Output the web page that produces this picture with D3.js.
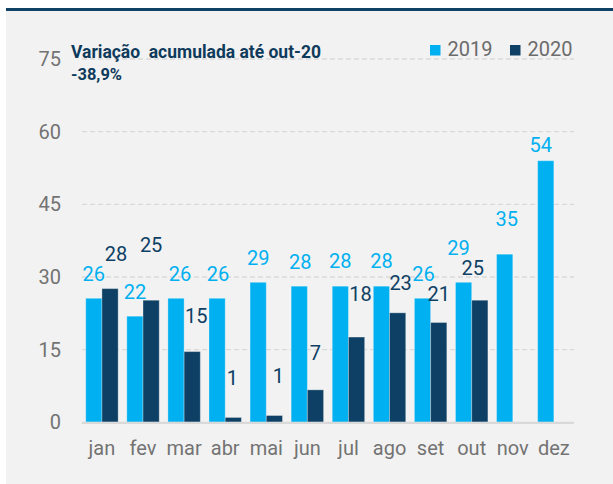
<!DOCTYPE html>
<html>
<head>
<meta charset="utf-8">
<script src="https://cdn.jsdelivr.net/npm/d3@7"></script>
<style>
  html, body { margin: 0; padding: 0; background: #ffffff; }
  svg { display: block; }
  text { font-family: Roboto, "Open Sans", sans-serif; }
</style>
</head>
<body>
<svg id="chart" width="613" height="484"></svg>
<script>
// ---- data ----
const months = ["jan", "fev", "mar", "abr", "mai", "jun", "jul", "ago", "set", "out", "nov", "dez"];
const seriesNames = ["2019", "2020"];
const values2019 = [25.6, 21.9, 25.6, 25.6, 28.9, 28.1, 28.1, 28.1, 25.6, 28.9, 34.7, 54.0];
const values2020 = [27.6, 25.2, 14.6, 1.0, 1.4, 6.7, 17.6, 22.6, 20.6, 25.2, null, null];
const labels2019 = ["26", "22", "26", "26", "29", "28", "28", "28", "26", "29", "35", "54"];
const labels2020 = ["28", "25", "15", "1", "1", "7", "18", "23", "21", "25", null, null];
const yTicks = [0, 15, 30, 45, 60, 75];
const annotationLines = ["Variação  acumulada até out-20", "-38,9%"];

// ---- layout / style (not data) ----
const colors = { "2019": "#00b0f0", "2020": "#0d4064" };
const labelNudge2019 = [[0,0],[0,0],[4,0],[1,0],[0,0],[1,0],[0,-1],[0,-1],[1,0],[-5,-10],[2,-11],[-5,8]];
const labelNudge2020 = [[6,-11],[0,-31],[4,-12],[-1,-15],[4,-16],[0,-13],[4,-19],[3,-6],[0,-5],[-7,-8],[0,0],[0,0]];

const svg = d3.select("#chart");

// background panel and top rule
svg.append("rect").attr("x", 6).attr("y", 11).attr("width", 607).attr("height", 473).attr("fill", "#f2f2f2");
svg.append("rect").attr("x", 6).attr("y", 8).attr("width", 607).attr("height", 3).attr("fill", "#0e4164");

const x0 = d3.scaleBand().domain(months).range([81.4, 574.4]).paddingInner(0.211).paddingOuter(0.1055);
const x1 = d3.scaleBand().domain(seriesNames).range([0, x0.bandwidth()]);
const y = d3.scaleLinear().domain([0, 75]).range([422.3, 59]);

// gridlines
svg.append("g").selectAll("line").data(yTicks.filter(t => t > 0)).join("line")
  .attr("x1", 82).attr("x2", 574)
  .attr("y1", d => y(d)).attr("y2", d => y(d))
  .attr("stroke", "#d9d9d9").attr("stroke-width", 1.3).attr("stroke-dasharray", "5,3");

// y axis
const yAxis = d3.axisLeft(y).tickValues(yTicks).tickSize(0).tickPadding(0);
const yg = svg.append("g").attr("transform", "translate(61,0)").call(yAxis);
yg.select(".domain").remove();
yg.selectAll("text").attr("font-size", 20).attr("fill", "#737373").attr("font-family", "Roboto, sans-serif");

// bars
const rows = months.map((m, i) => ({ m, i, v: [values2019[i], values2020[i]] }));
const groups = svg.append("g").selectAll("g").data(rows).join("g")
  .attr("transform", d => `translate(${x0(d.m)},0)`);

groups.selectAll("rect").data(d => seriesNames.map((s, k) => ({ s, v: d.v[k] })).filter(e => e.v != null))
  .join("rect")
  .attr("x", e => x1(e.s))
  .attr("width", x1.bandwidth())
  .attr("y", e => y(e.v))
  .attr("height", e => y(0) - y(e.v))
  .attr("fill", e => colors[e.s])
  .attr("stroke", "rgba(255,255,255,0.3)")
  .attr("stroke-width", 1);

// baseline
svg.append("line").attr("x1", 81.7).attr("x2", 574).attr("y1", y(0) + 0.5).attr("y2", y(0) + 0.5)
  .attr("stroke", "#d9d9d9").attr("stroke-width", 2.2);

// value labels
function addLabels(vals, labs, nudges, series) {
  svg.append("g").selectAll("text").data(months.map((m, i) => ({ m, i, v: vals[i], l: labs[i] })).filter(d => d.v != null))
    .join("text")
    .attr("x", d => x0(d.m) + x1(series) + x1.bandwidth() / 2 + nudges[d.i][0])
    .attr("y", d => y(d.v) - 17 + nudges[d.i][1])
    .attr("text-anchor", "middle")
    .attr("font-size", 20)
    .attr("fill", colors[series])
    .text(d => d.l);
}
addLabels(values2019, labels2019, labelNudge2019, "2019");
addLabels(values2020, labels2020, labelNudge2020, "2020");

// x axis labels
const xAxis = d3.axisBottom(x0).tickSize(0).tickPadding(0);
const xg = svg.append("g").attr("transform", "translate(0,441)").call(xAxis);
xg.select(".domain").remove();
xg.selectAll("text").attr("font-size", 20).attr("fill", "#737373").attr("font-family", "Roboto, sans-serif");

// annotation
svg.append("text").attr("x", 71).attr("y", 58.3)
  .attr("font-size", 18).attr("font-weight", "bold").attr("fill", "#0e3a5c")
  .attr("textLength", 250).attr("lengthAdjust", "spacingAndGlyphs")
  .attr("xml:space", "preserve").style("white-space", "pre")
  .text(annotationLines[0]);
svg.append("text").attr("x", 71).attr("y", 80)
  .attr("font-size", 17).attr("font-weight", "bold").attr("fill", "#0e3a5c")
  .attr("textLength", 51).attr("lengthAdjust", "spacingAndGlyphs")
  .text(annotationLines[1]);

// legend
const legendX = [430, 510];
const lg = svg.append("g").selectAll("g").data(seriesNames).join("g")
  .attr("transform", (d, i) => `translate(${legendX[i]},45)`);
lg.append("rect").attr("width", 10.5).attr("height", 10.5).attr("fill", d => colors[d]);
lg.append("text").attr("x", 17.5).attr("y", 11.3).attr("font-size", 20).attr("fill", "#6b6b6b").text(d => d);
</script>
</body>
</html>
